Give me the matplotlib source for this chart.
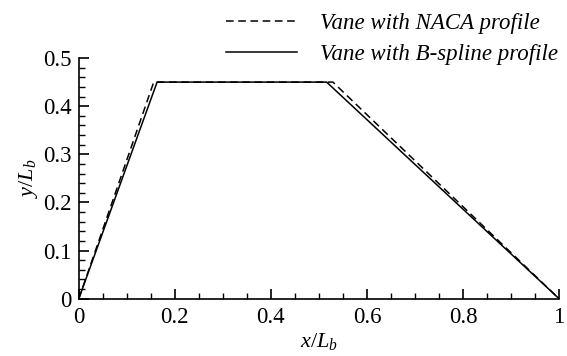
import matplotlib
matplotlib.use("Agg")
from matplotlib import pyplot as plt
from matplotlib.ticker import MultipleLocator, FuncFormatter

# profile corners
naca_x = [0.0, 0.156, 0.529, 1.0]
naca_y = [0.0, 0.45, 0.45, 0.0]
bspl_x = [0.0, 0.163, 0.516, 1.0]
bspl_y = [0.0, 0.45, 0.45, 0.0]

plt.rcParams["font.family"] = ["Liberation Serif", "DejaVu Serif"]
plt.rcParams["mathtext.fontset"] = "custom"
plt.rcParams["mathtext.it"] = "Liberation Serif:italic"
plt.rcParams["mathtext.rm"] = "Liberation Serif"

fig = plt.figure(figsize=(5.67, 3.56), dpi=100)
ax = fig.add_axes([0.139, 0.161, 0.847, 0.676])

ax.plot(naca_x, naca_y, color="black", lw=1.1, ls=(0, (5, 3)),
        label="Vane with NACA profile")
ax.plot(bspl_x, bspl_y, color="black", lw=1.1,
        label="Vane with B-spline profile")

ax.set_xlim(0, 1)
ax.set_ylim(0, 0.5)
for s in ["top", "right"]:
    ax.spines[s].set_visible(False)
ax.spines["left"].set_linewidth(1.2)
ax.spines["bottom"].set_linewidth(1.2)

ax.xaxis.set_major_locator(MultipleLocator(0.2))
ax.xaxis.set_minor_locator(MultipleLocator(0.05))
ax.yaxis.set_major_locator(MultipleLocator(0.1))
ax.yaxis.set_minor_locator(MultipleLocator(0.02))
fmt = FuncFormatter(lambda v, p: "0" if abs(v) < 1e-9 else ("1" if abs(v - 1) < 1e-9 else f"{v:.1f}"))
ax.xaxis.set_major_formatter(fmt)
ax.yaxis.set_major_formatter(fmt)
ax.tick_params(which="major", direction="in", length=7, width=1.2, labelsize=16.5)
ax.tick_params(axis="x", which="major", pad=6)
ax.tick_params(axis="y", which="major", pad=5)
ax.tick_params(which="minor", direction="in", length=4, width=1.0)

ax.set_xlabel(r"$x/L_b$", fontsize=16, labelpad=2)
ax.set_ylabel(r"$y/L_b$", fontsize=16, labelpad=2)

fig.legend(loc="upper right", bbox_to_anchor=(1.02, 1.022), frameon=False,
           handlelength=3.1, handletextpad=1.0, labelspacing=0.45,
           prop={"family": "Liberation Serif", "style": "italic", "size": 16.5})

fig.savefig("out.png", dpi=100)
